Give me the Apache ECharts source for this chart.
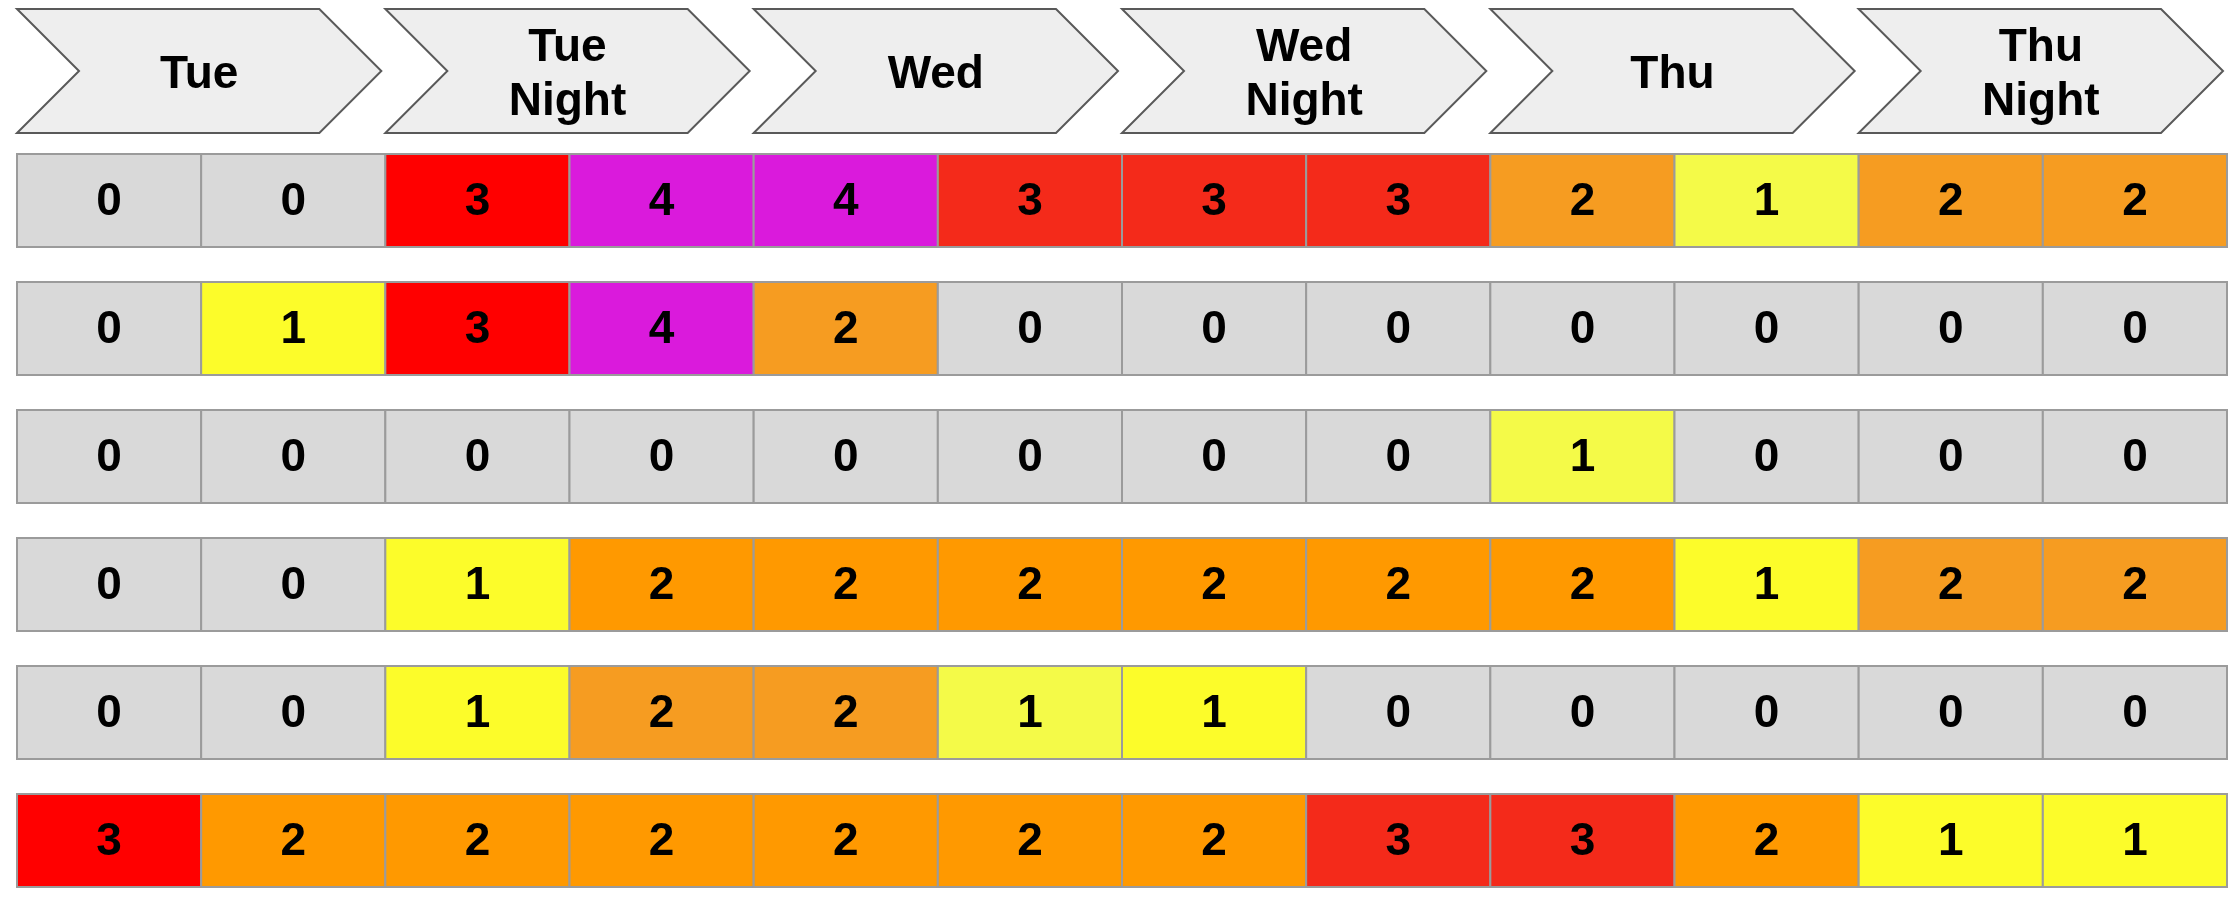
<!DOCTYPE html>
<html>
<head>
<meta charset="utf-8">
<script src="https://cdn.jsdelivr.net/npm/echarts@6/dist/echarts.min.js"></script>
<style>
  html, body { margin: 0; padding: 0; background: #ffffff; }
  #chart { width: 2237px; height: 912px; }
</style>
</head>
<body>
<div id="chart"></div>
<script>
// ---- Data ----
const days = ['Tue', 'Tue\nNight', 'Wed', 'Wed\nNight', 'Thu', 'Thu\nNight'];
const slots = ['Tue 1', 'Tue 2', 'Tue Night 1', 'Tue Night 2', 'Wed 1', 'Wed 2',
               'Wed Night 1', 'Wed Night 2', 'Thu 1', 'Thu 2', 'Thu Night 1', 'Thu Night 2'];
const rowNames = ['Row 1', 'Row 2', 'Row 3', 'Row 4', 'Row 5', 'Row 6'];
const row1 = [0, 0, 3, 4, 4, 3, 3, 3, 2, 1, 2, 2];
const row2 = [0, 1, 3, 4, 2, 0, 0, 0, 0, 0, 0, 0];
const row3 = [0, 0, 0, 0, 0, 0, 0, 0, 1, 0, 0, 0];
const row4 = [0, 0, 1, 2, 2, 2, 2, 2, 2, 1, 2, 2];
const row5 = [0, 0, 1, 2, 2, 1, 1, 0, 0, 0, 0, 0];
const row6 = [3, 2, 2, 2, 2, 2, 2, 3, 3, 2, 1, 1];
const rows = [row1, row2, row3, row4, row5, row6];

// ---- Styles (cell fills as drawn in the reference) ----
const G = '#D9D9D9', R = '#FF0000', R2 = '#F42A1A', M = '#DA1ADC',
      O = '#FF9900', O2 = '#F69C21', Y = '#FCFC2A', Y2 = '#F4FA48';
const cellColours = [
  [G, G, R, M, M, R2, R2, R2, O2, Y2, O2, O2],
  [G, Y, R, M, O2, G, G, G, G, G, G, G],
  [G, G, G, G, G, G, G, G, Y2, G, G, G],
  [G, G, Y, O, O, O, O, O, O, Y, O2, O2],
  [G, G, Y, O2, O2, Y2, Y, G, G, G, G, G],
  [R, O, O, O, O, O, O, R2, R2, O, Y, Y]
];
const FONT = 'bold 46px "Liberation Sans", Arial, sans-serif';

const cellData = [];
rows.forEach((r, yi) => r.forEach((v, xi) => cellData.push([xi, yi, v])));
const dayData = days.map((d, i) => [i, 0]);

const chart = echarts.init(document.getElementById('chart'), null, { renderer: 'canvas' });
chart.setOption({
  animation: false,
  backgroundColor: '#ffffff',
  grid: [
    { left: 17, right: 10, top: 9, height: 124 },
    { left: 17, right: 10, top: 136.5, height: 768 }
  ],
  xAxis: [
    { type: 'category', gridIndex: 0, data: days, show: false },
    { type: 'category', gridIndex: 1, data: slots, show: false }
  ],
  yAxis: [
    { type: 'value', gridIndex: 0, min: -1, max: 1, show: false },
    { type: 'category', gridIndex: 1, data: rowNames, inverse: true, show: false }
  ],
  series: [
    {
      type: 'custom',
      xAxisIndex: 0, yAxisIndex: 0,
      data: dayData,
      renderItem: function (params, api) {
        const c = api.coord([api.value(0), 0]);
        const bw = api.size([1, 0])[0];
        const cs = params.coordSys;
        const top = cs.y, bot = cs.y + cs.height, mid = (top + bot) / 2;
        const d = cs.height / 2;
        const x0 = c[0] - bw / 2, xe = c[0] + bw / 2 - 4;
        return {
          type: 'group',
          children: [
            {
              type: 'polygon',
              shape: { points: [[x0, top], [xe - d, top], [xe, mid], [xe - d, bot], [x0, bot], [x0 + d, mid]] },
              style: { fill: '#EEEEEE', stroke: '#595959', lineWidth: 2 }
            },
            {
              type: 'text',
              x: (x0 + xe) / 2, y: mid + 4,
              style: {
                text: days[api.value(0)], fill: '#000000', font: FONT,
                align: 'center', verticalAlign: 'middle', lineHeight: 54
              }
            }
          ]
        };
      }
    },
    {
      type: 'custom',
      xAxisIndex: 1, yAxisIndex: 1,
      data: cellData,
      renderItem: function (params, api) {
        const xi = api.value(0), yi = api.value(1), v = api.value(2);
        const c = api.coord([xi, yi]);
        const bw = api.size([1, 0])[0];
        const bh = api.size([0, 1])[1];
        const h = bh * 0.727;
        return {
          type: 'group',
          children: [
            {
              type: 'rect',
              shape: { x: c[0] - bw / 2, y: c[1] - h / 2, width: bw, height: h },
              style: { fill: cellColours[yi][xi], stroke: '#9B9B9B', lineWidth: 2 }
            },
            {
              type: 'text',
              x: c[0], y: c[1] + 2,
              style: {
                text: String(v), fill: '#000000', font: FONT,
                align: 'center', verticalAlign: 'middle'
              }
            }
          ]
        };
      }
    }
  ]
});
</script>
</body>
</html>
